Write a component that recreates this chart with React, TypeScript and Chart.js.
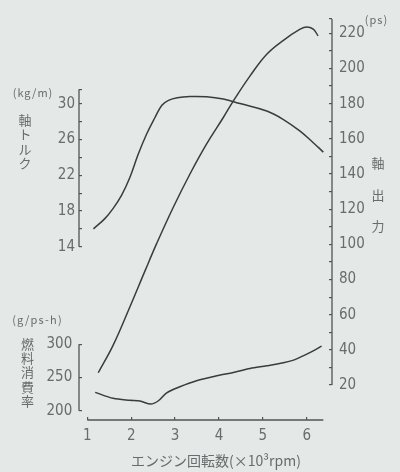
import React, { useEffect, useRef } from 'react';
import { Chart, registerables } from 'chart.js';

Chart.register(...registerables);

// ---- data ----
const rpmTorque = [1.14, 1.40, 1.59, 1.78, 1.97, 2.16, 2.35, 2.54, 2.70, 2.85, 3.05, 3.34, 3.72, 4.10, 4.48, 5.09, 5.47, 5.85, 6.15, 6.38];
const torque = [16.0, 17.15, 18.3, 19.75, 21.75, 24.35, 26.6, 28.45, 29.85, 30.4, 30.7, 30.83, 30.8, 30.54, 30.04, 29.2, 28.25, 26.95, 25.65, 24.6];

const rpmPower = [1.25, 1.59, 1.97, 2.32, 2.58, 2.96, 3.34, 3.72, 4.10, 4.33, 4.71, 5.09, 5.47, 5.85, 6.00, 6.15, 6.26];
const power = [27.0, 42.7, 64.4, 85.2, 100.4, 121.1, 140.0, 157.1, 172.1, 181.6, 195.8, 208.1, 216.0, 222.3, 223.6, 222.3, 218.5];

const rpmFuel = [1.18, 1.59, 1.97, 2.20, 2.45, 2.62, 2.81, 3.11, 3.49, 3.95, 4.33, 4.71, 5.09, 5.47, 5.70, 5.92, 6.15, 6.34];
const fuel = [227.6, 218.6, 215.6, 214.5, 210.0, 215.0, 227.0, 236.0, 245.0, 252.5, 257.6, 263.6, 267.5, 272.0, 276.0, 282.5, 290.0, 297.0];

const rpmTicks = [1, 2, 3, 4, 5, 6];
const torqueTicks = [14, 16, 18, 20, 22, 24, 26, 28, 30];
const torqueLabels = [14, 18, 22, 26, 30];
const powerTicks = [20, 30, 40, 50, 60, 70, 80, 90, 100, 110, 120, 130, 140, 150, 160, 170, 180, 190, 200, 210, 220];
const powerLabels = [20, 40, 60, 80, 100, 120, 140, 160, 180, 200, 220];
const fuelTicks = [200, 250, 300];

// ---- scale windows (so the three panels share one plot area) ----
const X_RANGE = [0.811, 6.577];
const X_AXIS = [1.0, 6.38];
const TORQUE_RANGE = [-5.41, 39.51];
const TORQUE_AXIS = [14, 31.65];
const FUEL_RANGE = [186.06, 788.8];
const FUEL_AXIS = [200, 300];
const POWER_RANGE = [0.15, 228.1];
const POWER_AXIS = [20, 228.1];

const BG = '#e4e8e7';
const TEXT = '#676c6c';
const AXIS = '#505555';
const CURVE = '#3a3c3c';
const TICK_FONT = { family: "'Liberation Sans Narrow', 'DejaVu Sans Condensed', 'Liberation Sans', sans-serif", size: 15 };
const CJK = "'Noto Sans CJK JP', 'Noto Sans', sans-serif";

const axisLines = {
  id: 'axisLines',
  afterDraw(chart: any) {
    const { ctx, chartArea, scales } = chart;
    ctx.save();
    ctx.strokeStyle = AXIS;
    ctx.lineWidth = 1.3;
    ctx.beginPath();
    const xs = scales.x;
    ctx.moveTo(xs.getPixelForValue(X_AXIS[0]), chartArea.bottom);
    ctx.lineTo(xs.getPixelForValue(X_AXIS[1]), chartArea.bottom);
    const lx = chartArea.left;
    ctx.moveTo(lx, scales.yT.getPixelForValue(TORQUE_AXIS[0]));
    ctx.lineTo(lx, scales.yT.getPixelForValue(TORQUE_AXIS[1]));
    const fx = xs.getPixelForValue(X_RANGE[0]);
    ctx.moveTo(fx, scales.yF.getPixelForValue(FUEL_AXIS[0]));
    ctx.lineTo(fx, scales.yF.getPixelForValue(FUEL_AXIS[1]));
    const rx = chartArea.right;
    ctx.moveTo(rx, scales.yP.getPixelForValue(POWER_AXIS[0]));
    ctx.lineTo(rx, scales.yP.getPixelForValue(POWER_AXIS[1]));
    ctx.stroke();
    ctx.restore();
  },
};

const gridOpts = (len: number) => ({
  drawOnChartArea: false,
  drawTicks: true,
  tickLength: len,
  color: AXIS,
  lineWidth: 1.2,
});

function Label({ x, y, text, size, spacing = 0 }: { x: number; y: number; text: string; size: number; spacing?: number }) {
  return (
    <div
      style={{
        position: 'absolute',
        left: x,
        top: y,
        transform: 'translate(-50%, -50%)',
        fontFamily: CJK,
        fontSize: size,
        letterSpacing: spacing,
        color: TEXT,
        whiteSpace: 'nowrap',
        lineHeight: 1,
      }}
    >
      {text}
    </div>
  );
}

function VText({ x, top, text, size, pitch }: { x: number; top: number; text: string; size: number; pitch: number }) {
  return (
    <div style={{ position: 'absolute', left: x - pitch / 2, top, width: pitch, fontFamily: CJK, fontSize: size, color: TEXT }}>
      {Array.from(text).map((c, i) => (
        <div key={i} style={{ height: pitch, lineHeight: pitch + 'px', textAlign: 'center' }}>{c}</div>
      ))}
    </div>
  );
}

const lineStyle = {
  borderColor: CURVE,
  borderWidth: 1.5,
  pointRadius: 0,
  tension: 0.4,
};

export default function App() {
  const ref = useRef<HTMLCanvasElement>(null);

  useEffect(() => {
    document.body.style.margin = '0';
    document.body.style.background = BG;
    const chart = new Chart(ref.current as HTMLCanvasElement, {
      type: 'line',
      data: {
        datasets: [
          { data: rpmTorque.map((x, i) => ({ x, y: torque[i] })), yAxisID: 'yT', ...lineStyle },
          { data: rpmPower.map((x, i) => ({ x, y: power[i] })), yAxisID: 'yP', ...lineStyle },
          { data: rpmFuel.map((x, i) => ({ x, y: fuel[i] })), yAxisID: 'yF', ...lineStyle, tension: 0.3 },
        ],
      },
      options: {
        animation: false,
        responsive: true,
        maintainAspectRatio: false,
        events: [],
        layout: { padding: { top: 18, left: 0, right: 0, bottom: 0 } },
        plugins: { legend: { display: false }, tooltip: { enabled: false } },
        scales: {
          x: {
            type: 'linear',
            position: 'bottom',
            min: X_RANGE[0],
            max: X_RANGE[1],
            afterBuildTicks: (s: any) => { s.ticks = rpmTicks.map((v) => ({ value: v })); },
            afterFit: (s: any) => { s.height = 52; },
            ticks: { autoSkip: false, color: TEXT, font: TICK_FONT, padding: 10, maxRotation: 0, callback: (v: any) => String(v) },
            grid: gridOpts(-3),
            border: { display: false },
          },
          yT: {
            type: 'linear',
            position: 'left',
            min: TORQUE_RANGE[0],
            max: TORQUE_RANGE[1],
            afterBuildTicks: (s: any) => { s.ticks = [...torqueTicks, TORQUE_AXIS[1]].map((v) => ({ value: v })); },
            afterFit: (s: any) => { s.width = 79; },
            ticks: { autoSkip: false, color: TEXT, font: TICK_FONT, padding: 7, callback: (v: any) => (torqueLabels.includes(v) ? String(v) : '') },
            grid: gridOpts(-3),
            border: { display: false },
          },
          yF: {
            type: 'linear',
            position: { x: X_RANGE[0] } as any,
            min: FUEL_RANGE[0],
            max: FUEL_RANGE[1],
            afterBuildTicks: (s: any) => { s.ticks = fuelTicks.map((v) => ({ value: v })); },
            // label offset from the line: an en space after the number
            ticks: { autoSkip: false, color: TEXT, font: TICK_FONT, padding: 8, callback: (v: any) => String(v) + '\u2002' },
            grid: gridOpts(-3),
            border: { display: false },
          },
          yP: {
            type: 'linear',
            position: 'right',
            min: POWER_RANGE[0],
            max: POWER_RANGE[1],
            afterBuildTicks: (s: any) => { s.ticks = [...powerTicks, POWER_AXIS[1]].map((v) => ({ value: v })); },
            afterFit: (s: any) => { s.width = 68; },
            ticks: { autoSkip: false, color: TEXT, font: TICK_FONT, padding: 10, callback: (v: any) => (powerLabels.includes(v) ? String(v) : '') },
            grid: gridOpts(-3),
            border: { display: false },
          },
        },
      } as any,
      plugins: [axisLines],
    });
    return () => chart.destroy();
  }, []);

  return (
    <div style={{ position: 'relative', width: 400, height: 472, background: BG, overflow: 'hidden' }}>
      <div style={{ position: 'absolute', left: 0, top: 0, width: 400, height: 472 }}>
        <canvas ref={ref} />
      </div>
      <Label x={33} y={91.5} text="(kg/m)" size={11} spacing={1} />
      <VText x={25} top={112.8} text="軸トルク" size={13} pitch={14.4} />
      <Label x={376.5} y={19} text="(ps)" size={11} spacing={1} />
      <VText x={378} top={147.3} text="軸出力" size={13} pitch={31.5} />
      <Label x={37.5} y={319} text="(g/ps-h)" size={11} spacing={1.2} />
      <VText x={27.5} top={336.9} text="燃料消費率" size={13} pitch={14.25} />
      <Label x={216} y={460} text="エンジン回転数(×10³rpm)" size={14} />
    </div>
  );
}
